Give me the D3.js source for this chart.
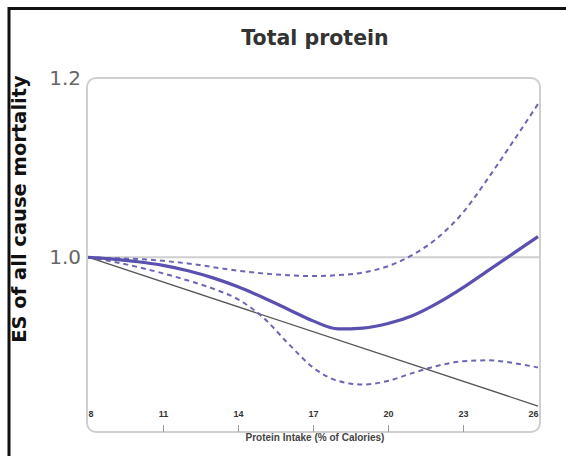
<!DOCTYPE html>
<html><head><meta charset="utf-8">
<script src="https://cdn.jsdelivr.net/npm/d3@7"></script>
<style>body{margin:0;background:#fff}svg{display:block}</style>
</head><body>
<svg id="c" width="566" height="456"></svg>
<script>
const xTicks = [8, 11, 14, 17, 20, 23, 26];
const yTicks = [1.0, 1.2];
const intake = [8, 9, 10, 11, 12, 13, 14, 15, 16, 17, 18, 19, 20, 21, 22, 23, 24, 25, 26];
const esMain = [1.0, 0.998, 0.995, 0.991, 0.985, 0.977, 0.967, 0.955, 0.942, 0.929, 0.920, 0.921, 0.926, 0.935, 0.949, 0.966, 0.985, 1.004, 1.023];
const esUpper = [1.0, 0.999, 0.998, 0.996, 0.993, 0.989, 0.985, 0.982, 0.980, 0.979, 0.980, 0.983, 0.990, 1.003, 1.022, 1.050, 1.088, 1.129, 1.171];
const esLower = [1.0, 0.995, 0.989, 0.982, 0.974, 0.965, 0.953, 0.933, 0.904, 0.877, 0.862, 0.858, 0.862, 0.871, 0.879, 0.884, 0.885, 0.882, 0.877];
const refX = [8, 26];
const refY = [1.0, 0.834];

const svg = d3.select("#c");
const x = d3.scaleLinear().domain([8, 26]).range([88, 538]);
const y = d3.scaleLinear().domain([0.805, 1.2]).range([432, 78]);

// outer frame
svg.append("rect").attr("x", 9).attr("y", 8.5).attr("width", 620).attr("height", 520)
  .attr("fill", "none").attr("stroke", "#111").attr("stroke-width", 3);

// plot box
svg.append("rect").attr("x", 87).attr("y", 78).attr("width", 453).attr("height", 354)
  .attr("rx", 9).attr("fill", "#fff").attr("stroke", "#cfcfcf").attr("stroke-width", 2);

// reference 1.0 line
svg.append("line").attr("x1", 88).attr("x2", 539).attr("y1", y(1.0)).attr("y2", y(1.0))
  .attr("stroke", "#cfcfcf").attr("stroke-width", 2);

// x axis ticks and labels
const xa = svg.append("g").attr("transform", "translate(0,432)")
  .call(d3.axisBottom(x).tickValues(xTicks).tickSize(-7).tickPadding(-21).tickFormat(d3.format("d")));
xa.select(".domain").remove();
xa.selectAll(".tick line").attr("stroke", "#999").attr("stroke-width", 1)
  .attr("opacity", d => (d === 8 || d === 26) ? 0 : 1);
xa.selectAll(".tick text").attr("fill", "#333").attr("font-family", "Liberation Sans, Arial, sans-serif")
  .attr("font-size", 9).attr("font-weight", "bold")
  .attr("text-anchor", d => d === 8 ? "start" : d === 26 ? "end" : "middle");

// y tick labels
svg.append("g").selectAll("text").data(yTicks).join("text")
  .attr("x", 81).attr("y", d => y(d)).attr("dy", "0.36em").attr("text-anchor", "end")
  .attr("font-family", "DejaVu Sans, sans-serif").attr("font-size", 20).attr("fill", "#666")
  .text(d => d.toFixed(1));

// lines
const line = d3.line().x(d => x(d[0])).y(d => y(d[1])).curve(d3.curveMonotoneX);
const zip = arr => intake.map((v, i) => [v, arr[i]]);

svg.append("path").datum(refX.map((v, i) => [v, refY[i]]))
  .attr("d", d3.line().x(d => x(d[0])).y(d => y(d[1])))
  .attr("fill", "none").attr("stroke", "#555").attr("stroke-width", 1.3);

[esUpper, esLower].forEach(s => {
  svg.append("path").datum(zip(s)).attr("d", line).attr("fill", "none")
    .attr("stroke", "#6b66b5").attr("stroke-width", 2).attr("stroke-dasharray", "5,4");
});
svg.append("path").datum(zip(esMain)).attr("d", line).attr("fill", "none")
  .attr("stroke", "#5a50b0").attr("stroke-width", 3.2);

// titles
svg.append("text").attr("x", 315).attr("y", 45).attr("text-anchor", "middle")
  .attr("font-family", "DejaVu Sans, sans-serif").attr("font-weight", "bold").attr("font-size", 20.5)
  .attr("fill", "#333").text("Total protein");

svg.append("text").attr("x", 315).attr("y", 441).attr("text-anchor", "middle")
  .attr("font-family", "Liberation Sans, Arial, sans-serif").attr("font-weight", "bold").attr("font-size", 10)
  .attr("fill", "#444").text("Protein Intake (% of Calories)");

svg.append("text").attr("transform", "translate(26,209) rotate(-90)").attr("text-anchor", "middle")
  .attr("font-family", "DejaVu Sans, sans-serif").attr("font-weight", "bold").attr("font-size", 19.5)
  .attr("fill", "#111").text("ES of all cause mortality");
</script>
</body></html>
